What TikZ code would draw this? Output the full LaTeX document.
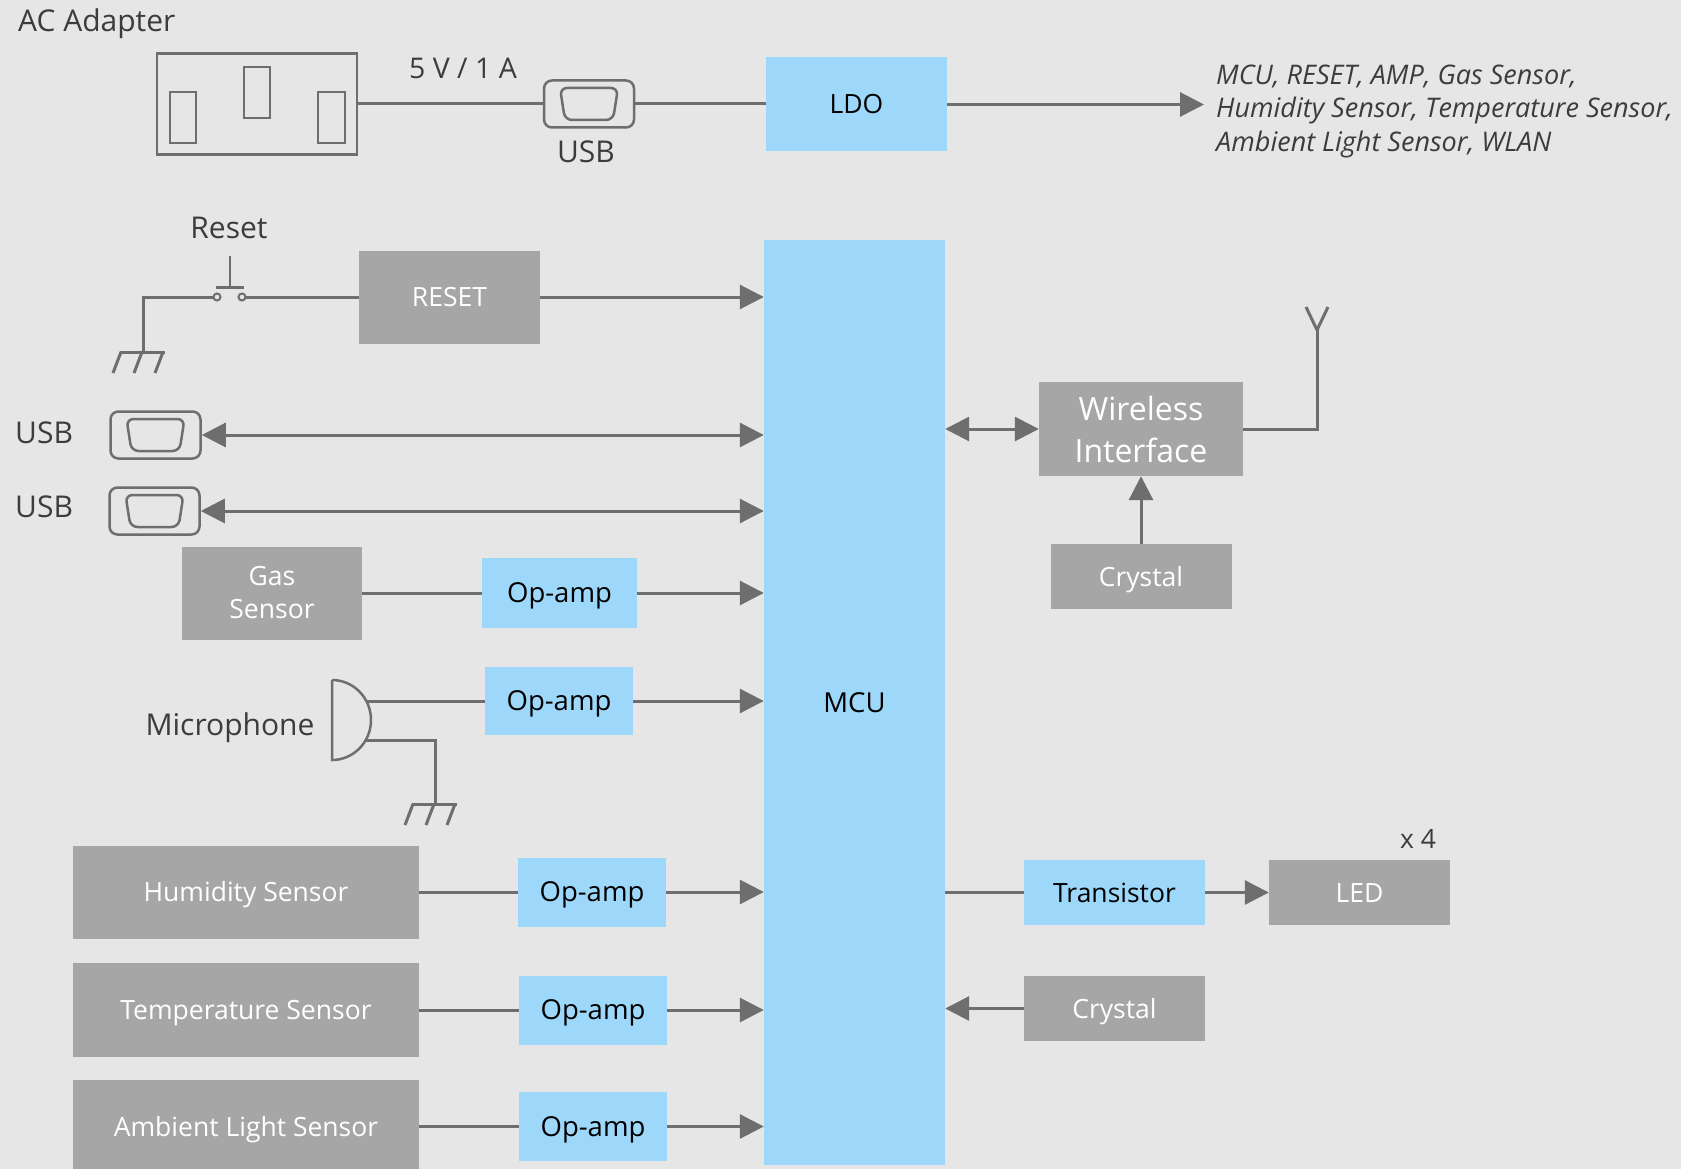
\documentclass[tikz,border=0pt]{standalone}
\usepackage{fontspec}
\setmainfont{Open Sans}
\usetikzlibrary{arrows.meta,calc}
\definecolor{bgc}{HTML}{E6E6E6}
\definecolor{bluec}{HTML}{9DD7F9}
\definecolor{grayc}{HTML}{A6A6A6}
\definecolor{linec}{HTML}{6E6E6E}
\definecolor{txtc}{HTML}{3C3C3C}
\newcommand{\fsz}[2]{\fontsize{#1pt}{#2pt}\selectfont}
\newcommand{\usbin}[1]{\draw[outline, rounded corners=7pt] ($(#1.center)+(-29,-16)$) -- ($(#1.center)+(29,-16)$) -- ($(#1.center)+(24,16)$) -- ($(#1.center)+(-24,16)$) -- cycle;}
\begin{document}
\begin{tikzpicture}[x=1pt,y=-1pt,
  bluebox/.style={fill=bluec, inner sep=0pt, text=black, font=\fsz{26.5}{31}, text height=19pt, text depth=0pt},
  graybox/.style={fill=grayc, inner sep=0pt, text=white, font=\fsz{26.5}{31}, text height=19pt, text depth=0pt},
  opamp/.style={bluebox, font=\fsz{27.5}{32}, text height=19.6pt},
  twoline/.style={text height=, text depth=},
  wire/.style={draw=linec, line width=3pt},
  tipA/.tip={Triangle[length=24pt,width=24pt]},
  arr/.style={wire, -tipA},
  arrb/.style={wire, tipA-tipA},
  outline/.style={draw=linec, line width=2.5pt},
  lbl/.style={text=txtc, inner sep=0pt, font=\fsz{30}{35}},
  usbbox/.style={outline, rounded corners=8pt, minimum width=90, minimum height=47, inner sep=0pt},
  gnd/.pic={
    \draw[wire] (-23,0) -- (22,0);
    \draw[wire] (-22,0) -- (-30,21);
    \draw[wire] (-1,0) -- (-9,21);
    \draw[wire] (20,0) -- (12,21);
  }
]
\fill[bgc] (0,0) rectangle (1681,1169);
\useasboundingbox (0,0) rectangle (1681,1169);
\clip (0,0) rectangle (1681,1169);

% ---------- top: power ----------
\node[lbl, anchor=base west] (aclbl) at (18,32) {AC Adapter};
\node[outline, minimum width=200, minimum height=101, inner sep=0pt] (outlet) at (257,104) {};
\draw[outline] (170,92) rectangle (196,143);
\draw[outline] (244,67) rectangle (270,118);
\draw[outline] (318,92) rectangle (345,143);
\node[lbl, anchor=base, font=\fsz{28.5}{33}] (vlbl) at (463,79) {5 V / 1 A};
\node[usbbox] (usb0) at (589,104) {};
\usbin{usb0}
\node[lbl, anchor=base] (usb0lbl) at (586,163) {USB};
\node[bluebox, minimum width=181, minimum height=94] (ldo) at (856.5,104.5) {LDO};
\coordinate (pwrend) at (1204,104.5);
\draw[wire] (outlet.east) -- (outlet.east -| usb0.west);
\draw[wire] (usb0.east) -- (usb0.east -| ldo.west);
\draw[arr] (ldo.east) -- (pwrend);
\node[lbl, anchor=base west, font=\fsz{27}{32}\itshape] (p1) at (1216,85) {MCU, RESET, AMP, Gas Sensor,};
\node[lbl, anchor=base west, font=\fsz{27}{32}\itshape] (p2) at (1216,118) {Humidity Sensor, Temperature Sensor,};
\node[lbl, anchor=base west, font=\fsz{27}{32}\itshape] (p3) at (1216,152) {Ambient Light Sensor, WLAN};

% ---------- MCU ----------
\node[bluebox, font=\fsz{27.5}{32}, minimum width=181, minimum height=925] (mcu) at (854.5,702.5) {MCU};

% ---------- reset ----------
\node[lbl, anchor=base] (rstlbl) at (229,239) {Reset};
\node[graybox, minimum width=181, minimum height=93] (reset) at (449.5,297) {RESET};
\coordinate (sw1) at (217,297);
\coordinate (sw2) at (242,297);
\coordinate (gnd1) at (143,352);
\draw[wire] (gnd1) |- (sw1);
\draw[wire] (sw2) -- (reset.west);
\draw[outline, line width=2pt, fill=bgc] (sw1) circle (3.5);
\draw[outline, line width=2pt, fill=bgc] (sw2) circle (3.5);
\draw[outline] (230,256) -- (230,287);
\draw[wire] (216,287) -- (244,287);
\pic at (gnd1) {gnd};
\draw[arr] (reset.east) -- (reset.east -| mcu.west);

% ---------- USB ports ----------
\node[lbl, anchor=base west] (usb1lbl) at (15,443) {USB};
\node[usbbox] (usb1) at (155.5,435) {};
\usbin{usb1}
\draw[arrb] (usb1.east) -- (usb1.east -| mcu.west);
\node[lbl, anchor=base west] (usb2lbl) at (15,517) {USB};
\node[usbbox] (usb2) at (154.5,511) {};
\usbin{usb2}
\draw[arrb] (usb2.east) -- (usb2.east -| mcu.west);

% ---------- gas ----------
\node[fill=grayc, inner sep=0pt, text=white, minimum width=180, minimum height=93, align=center, font=\fsz{26.5}{33}] (gas) at (272,593) {Gas\\Sensor};
\node[opamp, minimum width=155, minimum height=70] (op1) at (559.5,593) {Op-amp};
\draw[wire] (gas.east) -- (gas.east -| op1.west);
\draw[arr] (op1.east) -- (op1.east -| mcu.west);

% ---------- microphone ----------
\node[lbl, anchor=base] (miclbl) at (230,735) {Microphone};
\draw[outline] (332,680) -- (332,760) arc[start angle=90, end angle=-90, x radius=39, y radius=40];
\coordinate (micA) at (366,701);
\coordinate (micB) at (366,740);
\coordinate (gnd2) at (435,804);
\node[opamp, minimum width=148, minimum height=68] (op2) at (559,701) {Op-amp};
\draw[wire] (micA) -- (micA -| op2.west);
\draw[arr] (op2.east) -- (op2.east -| mcu.west);
\draw[wire] (micB) -| (gnd2);
\pic at (gnd2) {gnd};

% ---------- sensors ----------
\node[graybox, minimum width=346, minimum height=93] (hum) at (246,892) {Humidity Sensor};
\node[opamp, minimum width=148, minimum height=69] (op3) at (592,892) {Op-amp};
\draw[wire] (hum.east) -- (hum.east -| op3.west);
\draw[arr] (op3.east) -- (op3.east -| mcu.west);

\node[graybox, minimum width=346, minimum height=94] (temp) at (246,1010) {Temperature Sensor};
\node[opamp, minimum width=148, minimum height=69] (op4) at (593,1010) {Op-amp};
\draw[wire] (temp.east) -- (temp.east -| op4.west);
\draw[arr] (op4.east) -- (op4.east -| mcu.west);

\node[graybox, minimum width=346, minimum height=94] (amb) at (246,1126.5) {Ambient Light Sensor};
\node[opamp, minimum width=148, minimum height=69] (op5) at (593,1126.5) {Op-amp};
\draw[wire] (amb.east) -- (amb.east -| op5.west);
\draw[arr] (op5.east) -- (op5.east -| mcu.west);

% ---------- wireless ----------
\node[fill=grayc, inner sep=0pt, text=white, minimum width=204, minimum height=94, align=center, font=\fsz{32}{42}] (wl) at (1141,429) {Wireless\\Interface};
\node[graybox, minimum width=181, minimum height=65] (crys1) at (1141,576.5) {Crystal};
\coordinate (ant) at (1317,330);
\draw[arrb] (mcu.east |- wl) -- (wl.west);
\draw[wire] (wl.east) -| (ant);
\draw[wire] (ant) -- (1306,307);
\draw[wire] (ant) -- (1328,307);
\draw[arr] (crys1.north) -- (crys1.north |- wl.south);

% ---------- LED / crystal ----------
\node[bluebox, minimum width=181, minimum height=65] (trans) at (1114.5,892.5) {Transistor};
\node[graybox, minimum width=181, minimum height=65] (led) at (1359.5,892.5) {LED};
\node[lbl, anchor=base, font=\fsz{26.5}{30}] (x4) at (1418,848) {x 4};
\draw[wire] (mcu.east |- trans) -- (trans.west);
\draw[arr] (trans.east) -- (led.west);
\node[graybox, minimum width=181, minimum height=65] (crys2) at (1114.5,1008.5) {Crystal};
\draw[arr] (crys2.west) -- (crys2.west -| mcu.east);
\end{tikzpicture}
\end{document}
